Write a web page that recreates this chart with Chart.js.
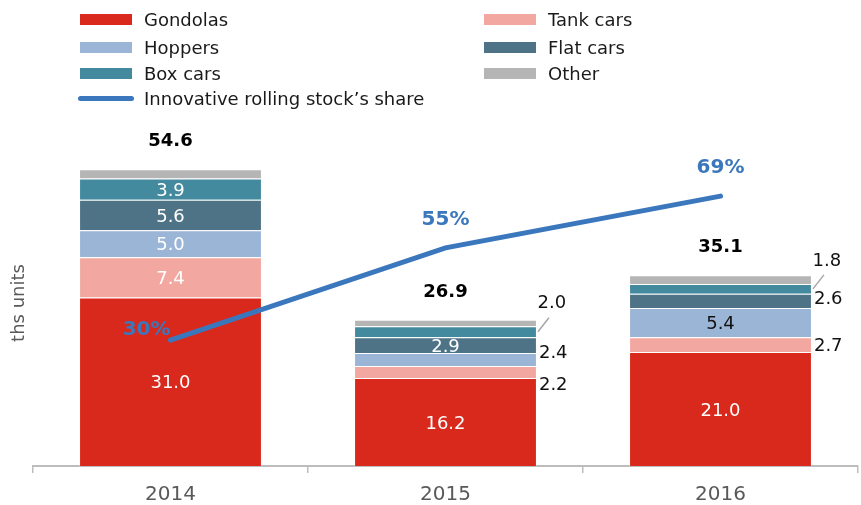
<!DOCTYPE html>
<html>
<head>
<meta charset="utf-8">
<script src="https://cdn.jsdelivr.net/npm/chart.js@4.4.1/dist/chart.umd.min.js"></script>
<style>
  body{margin:0;background:#fff;font-family:"DejaVu Sans",Verdana,sans-serif;}
  #wrap{position:relative;width:861px;height:505px;}
  #legend{position:absolute;left:0;top:0;width:861px;height:110px;}
  .item{position:absolute;display:flex;align-items:center;font-size:18px;color:#1a1a1a;height:24px;white-space:nowrap;}
  .sw{width:52px;height:11px;margin-right:12px;flex:none;}
  .sw.line{width:56px;height:5px;border-radius:3px;margin-left:-2px;margin-right:10px;}
</style>
</head>
<body>
<div id="wrap">
  <canvas id="chart" width="861" height="505"></canvas>
  <div id="legend"></div>
</div>
<script>
/* ---------- data ---------- */
const years = ['2014', '2015', '2016'];
const gondolas = [31.0, 16.2, 21.0];
const tankCars = [7.4, 2.2, 2.7];
const hoppers = [5.0, 2.4, 5.4];
const flatCars = [5.6, 2.9, 2.6];
const boxCars = [3.9, 2.0, 1.8];
const other = [1.7, 1.2, 1.6];
const innovativeShare = [30, 55, 69];

const FONT = '"DejaVu Sans", Verdana, sans-serif';
const LINE_BLUE = '#3a77bd';

// label placement per series and year: 'in' inside the bar, 'right' beside it,
// 'lead' above-right with a small leader line, null = no label
const series = [
  { label:'Gondolas',  data:gondolas, color:'#d9291c', place:['in','in','in'],       ink:['#fff','#fff','#fff'], dy:[0,0,0] },
  { label:'Tank cars', data:tankCars, color:'#f2a8a0', place:['in','right','right'], ink:['#fff','#111','#111'], dy:[0,13,2] },
  { label:'Hoppers',   data:hoppers,  color:'#9bb5d7', place:['in','right','in'],    ink:['#fff','#111','#111'], dy:[0,-6,0] },
  { label:'Flat cars', data:flatCars, color:'#4f7386', place:['in','in','right'],    ink:['#fff','#fff','#111'], dy:[0,0,-1] },
  { label:'Box cars',  data:boxCars,  color:'#448a9e', place:['in','lead','lead'],   ink:['#fff','#111','#111'], dy:[0,0,0] },
  { label:'Other',     data:other,    color:'#b5b5b5', place:[null,null,null],       ink:['#111','#111','#111'], dy:[0,0,0] }
];

/* ---------- legend (two columns, line item last) ---------- */
const legendEl = document.getElementById('legend');
const rowY = [19, 47, 73, 98];
const colX = [80, 484];
series.forEach((s, i) => {
  const div = document.createElement('div');
  div.className = 'item';
  div.style.left = colX[i % 2] + 'px';
  div.style.top = (rowY[Math.floor(i / 2)] - 12) + 'px';
  div.innerHTML = `<span class="sw" style="background:${s.color}"></span>${s.label}`;
  legendEl.appendChild(div);
});
const lineItem = document.createElement('div');
lineItem.className = 'item';
lineItem.style.left = colX[0] + 'px';
lineItem.style.top = (rowY[3] - 12) + 'px';
lineItem.innerHTML = `<span class="sw line" style="background:${LINE_BLUE}"></span>Innovative rolling stock’s share`;
legendEl.appendChild(lineItem);

/* ---------- labels plugin ---------- */
const labelPlugin = {
  id: 'stackLabels',
  afterDatasetsDraw(chart){
    const ctx = chart.ctx;
    ctx.save();
    ctx.textBaseline = 'middle';

    // segment values
    series.forEach((s, di) => {
      const meta = chart.getDatasetMeta(di + 1);
      meta.data.forEach((el, i) => {
        const mode = s.place[i];
        if (!mode) return;
        const txt = s.data[i].toFixed(1);
        const mid = (el.y + el.base) / 2;
        const right = el.x + el.width / 2;
        ctx.font = '18px ' + FONT;
        ctx.fillStyle = s.ink[i];
        if (mode === 'in'){
          ctx.textAlign = 'center';
          ctx.fillText(txt, el.x, mid + 2);
        } else if (mode === 'right'){
          ctx.textAlign = 'left';
          ctx.fillText(txt, right + 2, mid + s.dy[i]);
        } else if (mode === 'lead'){
          ctx.strokeStyle = '#a6a6a6';
          ctx.lineWidth = 1.5;
          ctx.beginPath();
          ctx.moveTo(right + 1, mid);
          ctx.lineTo(right + 12, mid - 14);
          ctx.stroke();
          ctx.textAlign = 'center';
          ctx.fillText(txt, right + 15, mid - 28);
        }
      });
    });

    // totals above the stacks
    const topMeta = chart.getDatasetMeta(series.length);
    topMeta.data.forEach((el, i) => {
      const total = series.reduce((sum, s) => sum + s.data[i], 0);
      ctx.font = 'bold 18px ' + FONT;
      ctx.fillStyle = '#000';
      ctx.textAlign = 'center';
      ctx.fillText(total.toFixed(1), el.x, el.y - 28);
    });

    // share labels
    const lineMeta = chart.getDatasetMeta(0);
    lineMeta.data.forEach((pt, i) => {
      ctx.font = 'bold 20px ' + FONT;
      ctx.fillStyle = LINE_BLUE;
      if (i === 0){
        ctx.textAlign = 'right';
        ctx.fillText(innovativeShare[i] + '%', pt.x, pt.y - 10);
      } else {
        ctx.textAlign = 'center';
        ctx.fillText(innovativeShare[i] + '%', pt.x, pt.y - 28);
      }
    });
    ctx.restore();
  }
};

/* ---------- chart ---------- */
const datasets = [{
  type: 'line',
  label: 'Innovative rolling stock’s share',
  data: innovativeShare,
  yAxisID: 'y2',
  borderColor: LINE_BLUE,
  borderWidth: 5,
  borderCapStyle: 'round',
  pointRadius: 0,
  tension: 0,
  order: 0
}].concat(series.map(s => ({
  type: 'bar',
  label: s.label,
  data: s.data,
  backgroundColor: s.color,
  borderColor: 'rgba(255,255,255,0.35)',
  borderWidth: 1,
  stack: 'fleet',
  barPercentage: 0.665,
  categoryPercentage: 1,
  order: 1
})));

new Chart(document.getElementById('chart'), {
  data: { labels: years, datasets },
  options: {
    responsive: false,
    animation: false,
    devicePixelRatio: 1,
    layout: { padding: { top: 140, right: 3, left: 0, bottom: 0 } },
    plugins: { legend: { display: false }, tooltip: { enabled: false } },
    scales: {
      x: {
        stacked: true,
        grid: { display: true, drawOnChartArea: false, drawTicks: true, tickLength: 7, color: '#bdbdbd', lineWidth: 1.5 },
        border: { display: true, color: '#bdbdbd', width: 2 },
        ticks: { color: '#595959', font: { family: FONT, size: 20 }, padding: 10 },
        afterFit: (scale) => { scale.height = 39; }
      },
      y: {
        stacked: true,
        min: 0,
        max: 60,
        ticks: { display: false },
        grid: { display: false },
        border: { display: false },
        title: { display: true, text: 'ths units', color: '#595959', font: { family: FONT, size: 18 }, padding: { top: 9, bottom: 0 } },
        afterFit: (scale) => { scale.width = 33; }
      },
      y2: {
        display: false,
        min: -4.1,
        max: 84.2
      }
    }
  },
  plugins: [labelPlugin]
});
</script>
</body>
</html>
